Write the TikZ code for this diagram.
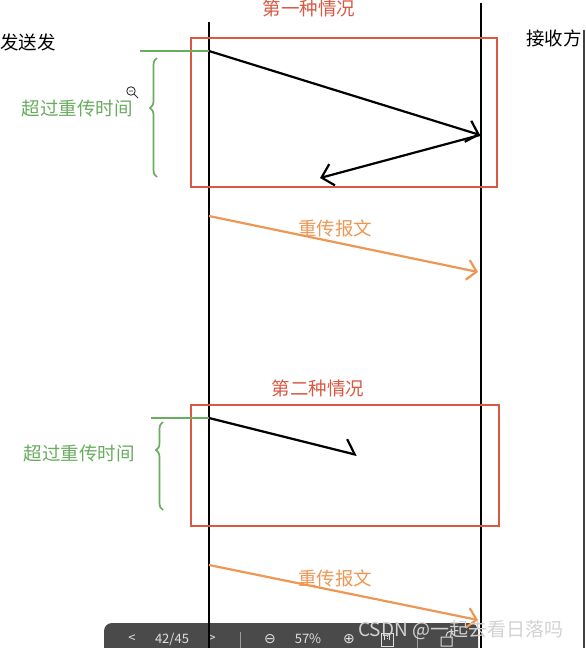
\documentclass[tikz,border=0pt]{standalone}
\usepackage{fontspec}
\newfontfamily\cjk{Noto Sans CJK SC}
\newfontfamily\symfont{DejaVu Sans}
\definecolor{casered}{RGB}{218, 88, 66}
\definecolor{timegreen}{RGB}{104, 172, 94}
\definecolor{resendorange}{RGB}{238, 150, 84}
\definecolor{bargray}{RGB}{74, 74, 74}
\definecolor{marklight}{RGB}{210, 210, 210}
\usetikzlibrary{arrows.meta, decorations.pathreplacing}

\begin{document}
\begin{tikzpicture}[x=1pt, y=-1pt,
  lbl/.style={font=\cjk\fontsize{18.5}{18.5}\selectfont, inner sep=0pt},
  lifeline/.style={line width=2.6pt, black},
  casebox/.style={draw=casered, line width=2.6pt},
  msg/.style={line width=2.2pt, black, -{Straight Barb[length=11pt, width=22pt]}},
  resend/.style={line width=2.2pt, resendorange, -{Straight Barb[length=9pt, width=20pt]}},
  timeout/.style={line width=2pt, timegreen},
  timebrace/.style={line width=1.7pt, timegreen, decorate, decoration={brace, amplitude=7pt, #1}},
  barlbl/.style={font=\cjk\fontsize{13}{13}\selectfont, text=white!88!black, inner sep=0pt}]
  \useasboundingbox (0,0) rectangle (586,648);
  \clip (0,0) rectangle (586,648);

  % viewer toolbar (under the lifelines)
  \fill[bargray, rounded corners=8pt] (104,623) rectangle (478,670);
  \draw[line width=0.6pt, white!45!bargray] (240,632) -- (240,648) (417,632) -- (417,648);
  \node[barlbl] (prev) at (132,639) {<};
  \node[barlbl] (page) at (172,639) {42/45};
  \node[barlbl] (next) at (212,639) {>};
  \node[barlbl, font=\symfont\fontsize{14}{14}\selectfont] (zoomout) at (270,639) {⊖};
  \node[barlbl] (pct) at (308,639) {57\%};
  \node[barlbl, font=\symfont\fontsize{14}{14}\selectfont] (zoomin) at (349,639) {⊕};
  % 1:1 and rotate icons
  \draw[line width=1pt, white!88!black] (381,633) rectangle (393,646);
  \draw[line width=0.7pt, white!88!black] (384.5,635) -- (384.5,640) (389.5,635) -- (389.5,640) (387,636) -- (387,636.8) (387,638.2) -- (387,639);
  \draw[line width=1pt, white!88!black] (441,637) rectangle (452,646) (446,636) arc (180:60:5pt);

  % lifelines
  \coordinate (sTop) at (209,22);
  \coordinate (sBot) at (209,648);
  \coordinate (rTop) at (481,3);
  \coordinate (rBot) at (481,648);
  \draw[lifeline] (sTop) -- (sBot);
  \draw[lifeline] (rTop) -- (rBot);
  \draw[line width=1.5pt, black!75] (584,30) -- (584,648);

  \node[lbl, anchor=west] (sender) at (0,42) {发送发};
  \node[lbl, anchor=west] (receiver) at (526,38) {接收方};

  % first case
  \node[lbl, text=casered] (case1) at (309,8) {第一种情况};
  \draw[casebox] (191,38) rectangle (497,187);
  \coordinate (send1) at (209,51);
  \coordinate (hit1) at (480,135);
  \coordinate (ack1) at (320,178);
  \draw[msg] (send1) -- (hit1);
  \draw[msg] (hit1) -- (ack1);
  \coordinate (tick1) at (140,51);
  \draw[timeout] (tick1) -- (send1);
  \coordinate (brTop1) at (157,58);
  \coordinate (brBot1) at (157,177);
  \draw[timebrace={aspect=0.58}] (brBot1) -- (brTop1);
  \node[lbl, text=timegreen] (wait1) at (77,108) {超过重传时间};
  % zoom cursor
  \draw[line width=0.9pt, black!80] (131,91) circle (4.2pt) (129,91) -- (133,91) (134,94) -- (138,98);

  \coordinate (re1a) at (209,216);
  \coordinate (re1b) at (478,272);
  \draw[resend] (re1a) -- (re1b);
  \node[lbl, text=resendorange] (retx1) at (335,228) {重传报文};

  % second case
  \node[lbl, text=casered] (case2) at (318,388) {第二种情况};
  \draw[casebox] (191,405) rectangle (499,526);
  \coordinate (send2) at (209,418);
  \coordinate (lost2) at (357,455);
  \draw[line width=2.2pt, black, -{Straight Barb[left, length=11pt, width=26pt]}] (send2) -- (lost2);
  \coordinate (tick2) at (151,418);
  \draw[timeout] (tick2) -- (send2);
  \coordinate (brTop2) at (163,422);
  \coordinate (brBot2) at (163,510);
  \draw[timebrace={aspect=0.68}] (brBot2) -- (brTop2);
  \node[lbl, text=timegreen] (wait2) at (79,453) {超过重传时间};

  \coordinate (re2a) at (209,565);
  \coordinate (re2b) at (478,620);
  \draw[resend] (re2a) -- (re2b);
  \node[lbl, text=resendorange] (retx2) at (335,578) {重传报文};

  % watermark
  \node[font=\cjk\fontsize{19}{19}\selectfont, text=marklight, inner sep=0pt, anchor=west] (mark) at (358,630) {CSDN @一起去看日落吗};
\end{tikzpicture}
\end{document}
